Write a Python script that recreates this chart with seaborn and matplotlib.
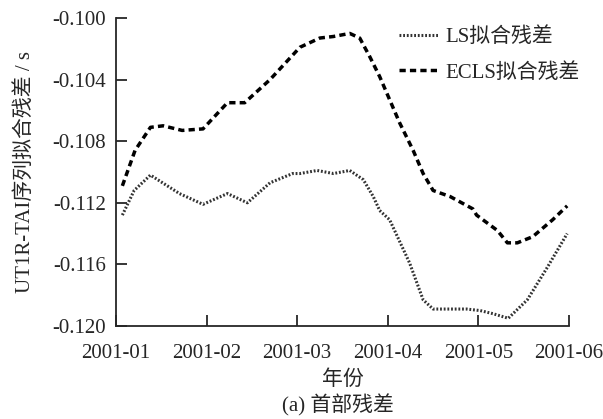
import numpy as np
import pandas as pd
import matplotlib
matplotlib.use("Agg")
import matplotlib.pyplot as plt
import seaborn as sns

# month index (0 = 2001-01, 5 = 2001-06) and residuals
ecls_month = [0.07, 0.21, 0.38, 0.52, 0.73, 0.96, 1.23, 1.42, 1.70, 2.03,
              2.25, 2.40, 2.58, 2.69, 2.80, 2.91, 3.02, 3.13, 3.28, 3.39,
              3.50, 3.69, 3.94, 3.98, 4.21, 4.32, 4.43, 4.60, 4.82, 4.98]
ecls_resid = [-0.1109, -0.1086, -0.1071, -0.1070, -0.1073, -0.1072, -0.1055, -0.1055, -0.1040, -0.1019,
              -0.1013, -0.1012, -0.1010, -0.1013, -0.1025, -0.1038, -0.1053, -0.1068, -0.1086, -0.1101,
              -0.1112, -0.1116, -0.1124, -0.1128, -0.1138, -0.1146, -0.1146, -0.1142, -0.1131, -0.1122]

ls_month = [0.07, 0.20, 0.38, 0.70, 0.96, 1.23, 1.45, 1.70, 1.95, 2.03,
            2.22, 2.40, 2.58, 2.73, 2.84, 2.91, 3.02, 3.24, 3.39, 3.50,
            3.69, 3.87, 4.02, 4.16, 4.33, 4.54, 4.76, 4.98]
ls_resid = [-0.1128, -0.1112, -0.1102, -0.1114, -0.1121, -0.1114, -0.1120, -0.1107, -0.1101, -0.1101,
            -0.1099, -0.1101, -0.1099, -0.1105, -0.1116, -0.1125, -0.1131, -0.1159, -0.1183, -0.1189,
            -0.1189, -0.1189, -0.1190, -0.1192, -0.1195, -0.1183, -0.1162, -0.1140]

tick_labels = ["2001-01", "2001-02", "2001-03", "2001-04", "2001-05", "2001-06"]

sns.set_style("ticks")
plt.rcParams['font.family'] = ['Liberation Serif', 'Noto Sans CJK SC']
plt.rcParams['axes.unicode_minus'] = False

df_ls = pd.DataFrame({"month": ls_month, "resid": ls_resid})
df_ecls = pd.DataFrame({"month": ecls_month, "resid": ecls_resid})

fig = plt.figure(figsize=(6.03, 4.19), dpi=100)
ax = fig.add_axes([0.1924, 0.222, 0.7512, 0.735])

sns.lineplot(data=df_ls, x="month", y="resid", ax=ax, color="#333333",
             linewidth=2.2, linestyle=(0, (0.6, 0.6)), label="LS拟合残差")
sns.lineplot(data=df_ecls, x="month", y="resid", ax=ax, color="black",
             linewidth=2.5, linestyle=(0, (1.8, 1.2)), label="ECLS拟合残差")

ax.set_xlim(0, 5)
ax.set_ylim(-0.120, -0.100)
ax.set_xticks(range(6))
ax.set_xticklabels(tick_labels)
yt = np.arange(-0.120, -0.0999, 0.004)
ax.set_yticks(yt)
ax.set_yticklabels([f"{v:.3f}" for v in yt])
ax.tick_params(direction="in", length=8, width=1.3, labelsize=15)
ax.tick_params(axis="x", pad=13)
ax.tick_params(axis="y", pad=7)
for s in ["top", "right"]:
    ax.spines[s].set_visible(False)
for s in ["left", "bottom"]:
    ax.spines[s].set_linewidth(1.3)

ax.set_xlabel("年份", fontsize=15, labelpad=5)
ax.set_ylabel("UT1R-TAI序列拟合残差 / s", fontsize=15, labelpad=13)

ax.legend(loc="upper right", bbox_to_anchor=(1.065, 1.03), frameon=False, fontsize=15,
          handlelength=1.9, handletextpad=0.3, labelspacing=0.75)

fig.text(0.56, 0.033, "(a) 首部残差", ha="center", va="center", fontsize=15)

fig.savefig("out.png", dpi=100)
